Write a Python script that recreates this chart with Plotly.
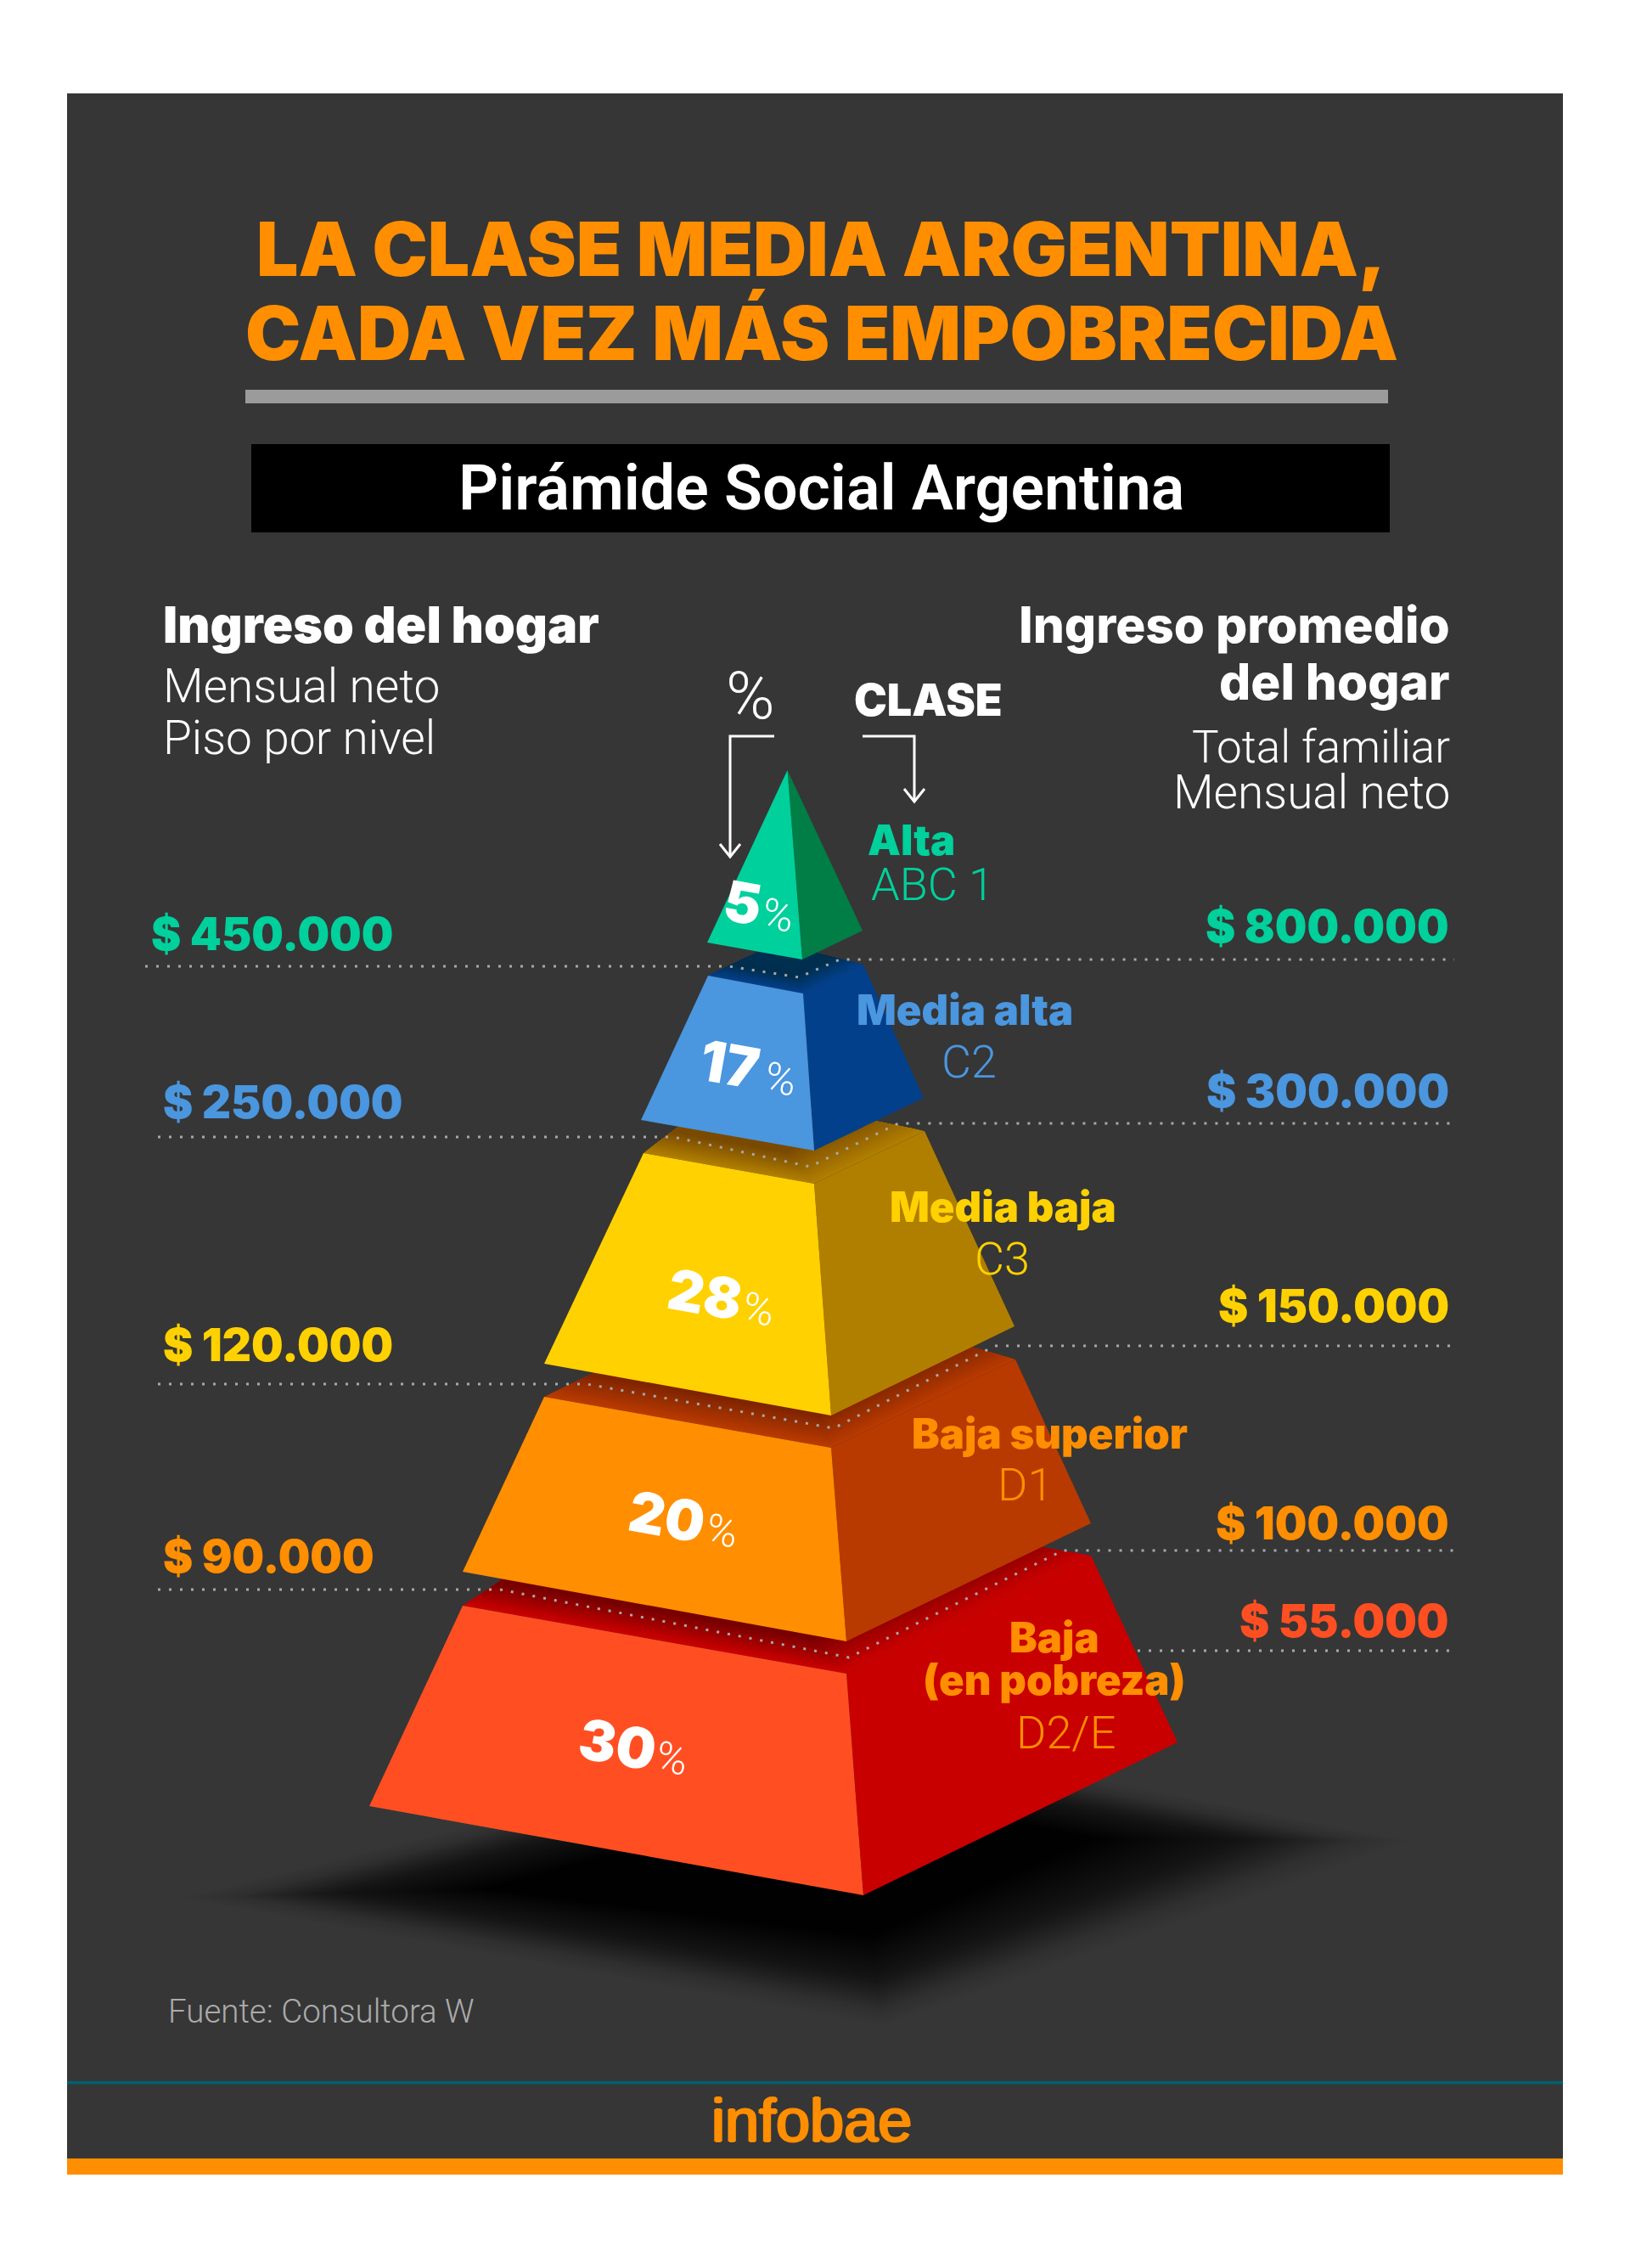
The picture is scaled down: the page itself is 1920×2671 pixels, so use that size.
import plotly.graph_objects as go

# ---- data ----
CLASSES = ["Alta", "Media alta", "Media baja", "Baja superior", "Baja\n(en pobreza)"]
CODES = ["ABC 1", "C2", "C3", "D1", "D2/E"]
SHARE_PCT = [5, 17, 28, 20, 30]
INCOME_FLOOR = [450000, 250000, 120000, 90000]
INCOME_AVG = [800000, 300000, 150000, 100000, 55000]

TITLE_LINES = ["LA CLASE MEDIA ARGENTINA,", "CADA VEZ MÁS EMPOBRECIDA"]
SUBTITLE = "Pirámide Social Argentina"
SOURCE = "Fuente: Consultora W"
BRAND = "infobae"

# ---- styles ----
C_LIGHT = ["#00D09C", "#4A96DF", "#FFD100", "#FF8E00", "#FF4F22"]
C_DARK = ["#007E46", "#03408B", "#B07F00", "#B83A00", "#C90000"]
C_BAND = [None, "#002F4F", "#7A4A00", "#7E2400", "#760000"]
BAND_SPAN = [None, 0.33, 0.33, 0.2, 0.18]
C_AMOUNT = ["#00D09C", "#4A96DF", "#FFD100", "#FF8E00", "#FF4F22"]
C_CLASS = ["#00D09C", "#4A96DF", "#FFD100", "#FF8E00", "#FF8E00"]
BG = "#363636"
ORANGE = "#FF8E00"
HEAVY = "Inter"
MEDIUM = "Roboto"
LIGHT = "Roboto"

# ---- illustration geometry, in page pixels ----
# each tier: top-left, top-front, top-right, bottom-left, bottom-front, bottom-right, back vertex
TIERS = [
    ((927.5, 907), (927.5, 907), (927.5, 907), (833, 1110), (945, 1130), (1016, 1096), None),
    ((834, 1149), (946, 1170), (1017, 1136), (755, 1319), (959, 1355), (1088, 1293), (915, 1111)),
    ((758, 1358), (959, 1394), (1089, 1332), (641, 1606), (979, 1667), (1195, 1562), (856, 1284)),
    ((641, 1645), (979, 1705), (1196, 1601), (545, 1851), (997, 1933), (1285, 1794), (907, 1518)),
    ((545, 1891), (997, 1971), (1285, 1832), (435, 2127), (1017, 2232), (1387, 2052), (767, 1745)),
]
DOT_PATHS = [
    [(171, 1138), (859, 1138), (941, 1151), (989, 1130), (1713, 1130)],
    [(186, 1339), (793, 1339), (954, 1374), (1058, 1323), (1717, 1323)],
    [(186, 1630), (691, 1630), (982, 1682), (1172, 1585), (1717, 1585)],
    [(186, 1872), (589, 1872), (1000, 1952), (1252, 1826), (1717, 1826)],
    [(1340, 1944), (1717, 1944)],
]
LEFT_POS = [(178, 1119), (192, 1317), (192, 1603), (192, 1852)]
RIGHT_BASE = [1110, 1304, 1557, 1813, 1928]
NUM_POS = [(875, 1063), (859, 1253), (830, 1524), (786, 1786), (727, 2054)]
PCT_POS = [(916, 1078), (919, 1271), (893, 1542), (850, 1803), (791, 2071)]
CLASS_POS = [(1022, 1007, "left"), (1009, 1207, "left"), (1048, 1439, "left"), (1074, 1706, "left"), (1242, 1946, "center")]
CODE_POS = [(1026, 1061, "left"), (1141, 1270, "center"), (1180, 1502, "center"), (1207, 1768, "center"), (1256, 2060, "center")]

fig = go.Figure()
annotations = []


def hexmix(a, b, t):
    ca = [int(a[i:i + 2], 16) for i in (1, 3, 5)]
    cb = [int(b[i:i + 2], 16) for i in (1, 3, 5)]
    return "#%02x%02x%02x" % tuple(round(p + (q - p) * t) for p, q in zip(ca, cb))


def poly(points, color):
    xs = [p[0] for p in points] + [points[0][0]]
    ys = [p[1] for p in points] + [points[0][1]]
    fig.add_trace(go.Scatter(x=xs, y=ys, mode="lines", fill="toself", fillcolor=color,
                             line=dict(width=0), hoverinfo="skip", showlegend=False))


def polyline(points, color, width, dash=None):
    fig.add_trace(go.Scatter(x=[p[0] for p in points], y=[p[1] for p in points], mode="lines",
                             line=dict(color=color, width=width, dash=dash),
                             hoverinfo="skip", showlegend=False))


def text(x, base, s, size, color, weight=400, family=HEAVY, align="left", angle=0, shadow=None):
    font = dict(family=family, size=size, color=color, weight=weight)
    if shadow:
        font["shadow"] = shadow
    annotations.append(dict(x=x, y=base - 0.36 * size, xref="x", yref="y", text=s, showarrow=False,
                            xanchor=align, yanchor="middle", textangle=angle, borderpad=0, borderwidth=0,
                            font=font))


def money(v):
    return "$ " + f"{v:,}".replace(",", ".")


# ---- backdrop shapes ----
fig.add_shape(type="rect", x0=79, x1=1841, y0=110, y1=2561, fillcolor=BG, line_width=0, layer="below")
fig.add_shape(type="rect", x0=79, x1=1841, y0=2542, y1=2561, fillcolor=ORANGE, line_width=0, layer="below")
fig.add_shape(type="rect", x0=79, x1=1841, y0=2451, y1=2454.5, fillcolor="#006070", line_width=0, layer="below")
fig.add_shape(type="rect", x0=289, x1=1635, y0=459, y1=475, fillcolor="#9B9B9B", line_width=0, layer="below")
fig.add_shape(type="rect", x0=296, x1=1637, y0=523, y1=627, fillcolor="#000000", line_width=0, layer="below")

# ---- ground shadow: translucent quads easing from the outer outline to a dark core ----
SHADOW_OUT = [(215, 2235), (1000, 2040), (1660, 2168), (1040, 2385)]
SHADOW_CORE = [(570, 2225), (1000, 2110), (1290, 2165), (1025, 2280)]
LAYERS = 40
for i in range(LAYERS):
    t = i / (LAYERS - 1)
    a = 0.01 + 0.07 * t
    poly([(o[0] + (c[0] - o[0]) * t, o[1] + (c[1] - o[1]) * t) for o, c in zip(SHADOW_OUT, SHADOW_CORE)],
         f"rgba(0,0,0,{a:.4f})")

# ---- pyramid, bottom tier first ----
for k in range(4, -1, -1):
    tl, tf, tr, bl, bf, br, back = TIERS[k]
    if back:
        steps = 30
        for j in range(steps):
            s = 1 - 0.5 * j / (steps - 1)
            col = hexmix(C_DARK[k], C_BAND[k], min(1, (1 - s) / BAND_SPAN[k]))
            poly([(back[0] + (p[0] - back[0]) * s, back[1] + (p[1] - back[1]) * s) for p in (tl, tf, tr)] + [back], col)
    poly([tf, tr, br, bf], C_DARK[k])
    poly([tl, tf, bf, bl], C_LIGHT[k])
    if k > 0:
        polyline(DOT_PATHS[k - 1], "#A8A8A8", 3, "3px,10px")
polyline(DOT_PATHS[4], "#A8A8A8", 3, "3px,10px")

# ---- arrows ----
polyline([(912, 867), (860, 867), (860, 1008)], "#FFFFFF", 3)
polyline([(848, 994), (860, 1009), (872, 994)], "#FFFFFF", 3)
polyline([(1016, 867), (1077, 867), (1077, 943)], "#FFFFFF", 3)
polyline([(1065, 929), (1077, 944), (1089, 929)], "#FFFFFF", 3)

# ---- text ----
text(967.5, 324, TITLE_LINES[0], 87.5, ORANGE, 900, align="center")
text(967.5, 423, TITLE_LINES[1], 87.5, ORANGE, 900, align="center")
text(967, 601, SUBTITLE, 73.5, "#FFFFFF", 600, MEDIUM, align="center")

text(192, 757, "Ingreso del hogar", 59, "#FFFFFF", 900)
text(192, 828, "Mensual neto", 55, "#FFFFFF", 300, LIGHT)
text(192, 889, "Piso por nivel", 55, "#FFFFFF", 300, LIGHT)
text(1708, 757, "Ingreso promedio", 58.5, "#FFFFFF", 800, align="right")
text(1708, 824, "del hogar", 58.5, "#FFFFFF", 800, align="right")
text(1708, 899, "Total familiar", 53, "#FFFFFF", 300, LIGHT, align="right")
text(1708, 953, "Mensual neto", 55, "#FFFFFF", 300, LIGHT, align="right")
text(884, 848, "%", 78, "#FFFFFF", 300, LIGHT, align="center")
text(1093, 843, "CLASE", 52, "#FFFFFF", 900, align="center")

for v, (x, y), c in zip(INCOME_FLOOR, LEFT_POS, C_AMOUNT):
    text(x, y, money(v), 53, c, 900)
for v, y, c in zip(INCOME_AVG, RIGHT_BASE, C_AMOUNT):
    text(1707, y, money(v), 53, c, 900, align="right")

for name, (x, y, al), c in zip(CLASSES, CLASS_POS, C_CLASS):
    for n, part in enumerate(name.split("\n")):
        text(x, y + n * 50, part, 49, c, 900, align=al)
for code, (x, y, al), c in zip(CODES, CODE_POS, C_CLASS):
    text(x, y, code, 54, c, 300, LIGHT, align=al)

for v, (x, y), (px, py) in zip(SHARE_PCT, NUM_POS, PCT_POS):
    annotations.append(dict(x=x, y=y, xref="x", yref="y", text=str(v), showarrow=False, textangle=10,
                            xanchor="center", yanchor="middle",
                            font=dict(family=HEAVY, size=66, color="#FFFFFF", weight=900)))
    annotations.append(dict(x=px, y=py, xref="x", yref="y", text="%", showarrow=False, textangle=10,
                            xanchor="center", yanchor="middle",
                            font=dict(family=LIGHT, size=50, color="#FFFFFF", weight=300)))

text(198, 2382, SOURCE, 38.5, "#ABABAB", 300, LIGHT)
text(955.5, 2523, BRAND, 72, ORANGE, 400, "Liberation Sans", align="center",
     shadow="1.5px 0 0 #FF8E00, -1.5px 0 0 #FF8E00, 0 1px 0 #FF8E00, 0 -1px 0 #FF8E00")

fig.update_layout(
    width=1920, height=2671, margin=dict(l=0, r=0, t=0, b=0),
    paper_bgcolor="#FFFFFF", plot_bgcolor="rgba(0,0,0,0)", showlegend=False,
    xaxis=dict(range=[0, 1920], visible=False, fixedrange=True),
    yaxis=dict(range=[2671, 0], visible=False, fixedrange=True),
    annotations=annotations,
)
fig.write_html("out.html", post_script="document.body.style.margin='0';", config={"displayModeBar": False})
